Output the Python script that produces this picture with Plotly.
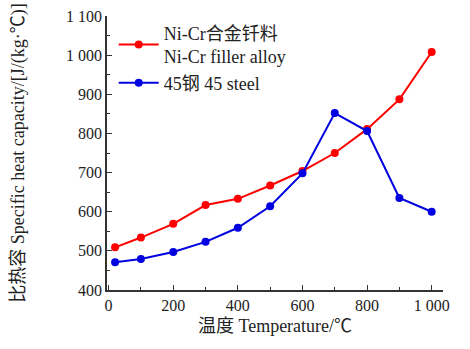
import plotly.graph_objects as go

temps = [20, 100, 200, 300, 400, 500, 600, 700, 800, 900, 1000]
nicr = [509, 534, 569, 617, 633, 667, 704, 750, 811, 887, 1008]
steel = [471, 479, 497, 523, 559, 614, 698, 852, 806, 635, 600]

x_ticks = [0, 200, 400, 600, 800, 1000]
x_labels = ["0", "200", "400", "600", "800", "1 000"]
y_ticks = [400, 500, 600, 700, 800, 900, 1000, 1100]
y_labels = ["400", "500", "600", "700", "800", "900", "1 000", "1 100"]

FONT = "Liberation Serif, Times New Roman, Noto Sans CJK SC, serif"

fig = go.Figure()
fig.add_trace(go.Scatter(
    x=temps, y=nicr, mode="lines+markers",
    name="Ni-Cr合金钎料<br>Ni-Cr filler alloy",
    line=dict(color="#ff0000", width=2),
    marker=dict(color="#ff0000", size=8, symbol="circle"),
))
fig.add_trace(go.Scatter(
    x=temps, y=steel, mode="lines+markers",
    name="45钢 45 steel",
    line=dict(color="#0000e0", width=2),
    marker=dict(color="#0000e0", size=8, symbol="circle"),
))

axis_common = dict(
    showline=True, linecolor="#333333", linewidth=1.5,
    ticks="inside", ticklen=5, tickwidth=1.2, tickcolor="#333333",
    showgrid=False, zeroline=False, mirror=False,
    tickfont=dict(family=FONT, size=16, color="#222222"),
)

fig.update_layout(
    width=470, height=349,
    margin=dict(l=107, r=27, t=16, b=59, autoexpand=False),
    paper_bgcolor="white", plot_bgcolor="white",
    showlegend=True,
    legend=dict(
        x=0.02, y=1.005, xanchor="left", yanchor="top",
        bgcolor="rgba(0,0,0,0)",
        font=dict(family=FONT, size=18, color="#222222"),
        itemwidth=40, tracegroupgap=0,
    ),
    xaxis=dict(
        range=[-5, 1035],
        tickvals=x_ticks, ticktext=x_labels,
        minor=dict(ticks="inside", ticklen=3, dtick=100, tick0=0, tickcolor="#333333"),
        title=dict(text="温度 Temperature/℃", font=dict(family=FONT, size=18, color="#222222"), standoff=6),
        automargin=False,
        **axis_common,
    ),
    yaxis=dict(
        range=[400, 1100],
        tickvals=y_ticks, ticktext=y_labels,
        minor=dict(ticks="inside", ticklen=3, dtick=50, tick0=0, tickcolor="#333333"),
        title=dict(text="比热容 Specific heat capacity/[J/(kg·℃)]", font=dict(family=FONT, size=18, color="#222222"), standoff=37),
        automargin=False,
        **axis_common,
    ),
)

fig.write_html("out.html")
